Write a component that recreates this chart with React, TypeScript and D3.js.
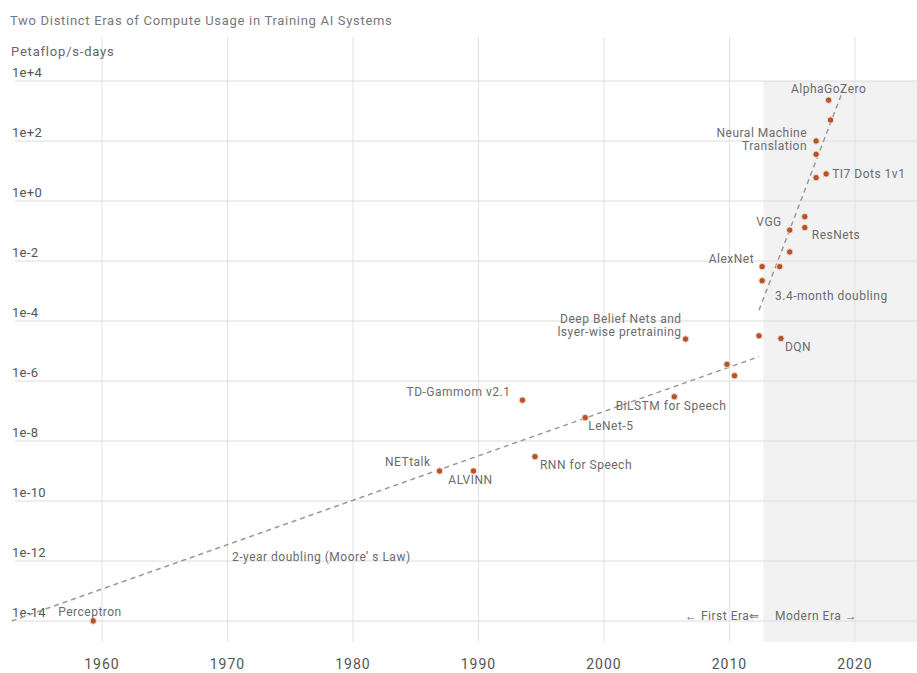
import { useEffect, useRef } from 'react';
import * as d3 from 'd3';

// training runs: name, year, petaflop/s-days
const systems = [
    'Perceptron', 'NETtalk', 'ALVINN', 'TD-Gammon', 'RNN for Speech', 'LeNet-5',
    'BiLSTM for Speech', 'Deep Belief Nets', 'run-2009', 'run-2010', 'run-2012a', 'DQN',
    'run-2012b', 'AlexNet', 'run-2014a', 'run-2014b', 'VGG', 'ResNets', 'run-2016',
    'run-2016b', 'TI7 Dots 1v1', 'Neural Machine Translation', 'run-2016c', 'run-2018', 'AlphaGoZero'
];
const years = [
    1959.3, 1986.9, 1989.6, 1993.5, 1994.5, 1998.5,
    2005.6, 2006.5, 2009.8, 2010.4, 2012.35, 2014.1,
    2012.6, 2012.6, 2014.0, 2014.8, 2014.8, 2016.0, 2016.0,
    2016.9, 2017.7, 2016.9, 2016.9, 2018.05, 2017.9
];
const petaflopDays = [
    1e-14, 1e-9, 1e-9, 2.3e-7, 3e-9, 6e-8,
    3e-7, 2.5e-5, 3.6e-6, 1.5e-6, 3.2e-5, 2.6e-5,
    2.2e-3, 6.5e-3, 6.5e-3, 2e-2, 0.107, 0.13, 0.3,
    6, 8, 100, 36, 500, 2300
];

const yearTicks = [1960, 1970, 1980, 1990, 2000, 2010, 2020];
const computeTicks = [1e4, 1e2, 1, 1e-2, 1e-4, 1e-6, 1e-8, 1e-10, 1e-12, 1e-14];
const computeTickLabels = ['1e+4', '1e+2', '1e+0', '1e-2', '1e-4', '1e-6', '1e-8', '1e-10', '1e-12', '1e-14'];

// trend lines [year, petaflop/s-days]
const mooreLine: [number, number][] = [[1952.8, 1e-14], [2012.35, 6.5e-6]];
const modernLine: [number, number][] = [[2012.35, 2.3e-4], [2019.05, 5e3]];
const modernEraStart = 2012.7;

// label text per system, with offsets from the dot
const labels: { name: string; lines: string[]; anchor: string; dx: number; dy: number }[] = [
    { name: 'AlphaGoZero', lines: ['AlphaGoZero'], anchor: 'middle', dx: 0, dy: -7 },
    { name: 'Neural Machine Translation', lines: ['Neural Machine', 'Translation'], anchor: 'end', dx: -9, dy: -4 },
    { name: 'TI7 Dots 1v1', lines: ['TI7 Dots 1v1'], anchor: 'start', dx: 6, dy: 4 },
    { name: 'VGG', lines: ['VGG'], anchor: 'end', dx: -8, dy: -4 },
    { name: 'ResNets', lines: ['ResNets'], anchor: 'start', dx: 7, dy: 11 },
    { name: 'AlexNet', lines: ['AlexNet'], anchor: 'end', dx: -8, dy: -4 },
    { name: 'DQN', lines: ['DQN'], anchor: 'start', dx: 4, dy: 12 },
    { name: 'Deep Belief Nets', lines: ['Deep Belief Nets and', 'lsyer-wise pretraining'], anchor: 'end', dx: -4, dy: -16 },
    { name: 'TD-Gammon', lines: ['TD-Gammom v2.1'], anchor: 'end', dx: -12, dy: -4 },
    { name: 'BiLSTM for Speech', lines: ['BiLSTM for Speech'], anchor: 'end', dx: 52, dy: 13 },
    { name: 'LeNet-5', lines: ['LeNet-5'], anchor: 'start', dx: 3, dy: 12 },
    { name: 'NETtalk', lines: ['NETtalk'], anchor: 'end', dx: -9, dy: -5 },
    { name: 'ALVINN', lines: ['ALVINN'], anchor: 'middle', dx: -3, dy: 13 },
    { name: 'RNN for Speech', lines: ['RNN for Speech'], anchor: 'start', dx: 5, dy: 12 },
    { name: 'Perceptron', lines: ['Perceptron'], anchor: 'start', dx: -35, dy: -5 },
];

export default function App() {
    const svgRef = useRef<SVGSVGElement>(null);

    useEffect(() => {
        if (!svgRef.current) return;
        const svg = d3.select(svgRef.current);
        svg.selectAll('*').remove();

        const width = 917;
        const left = 15, top = 81, bottom = 642, gridTop = 37;
        const font = 'Roboto, "Noto Sans", sans-serif';
        const textColor = '#6b6b6b';

        const x = d3.scaleLinear().domain([1960, 2020]).range([102, 855]);
        const y = d3.scaleLog().domain([1e-14, 1e4]).range([621, 81]);

        svg.append('rect').attr('width', width).attr('height', 673).attr('fill', '#fff');

        // modern era shading
        svg.append('rect')
            .attr('x', x(modernEraStart))
            .attr('y', top)
            .attr('width', width - x(modernEraStart))
            .attr('height', bottom - top)
            .attr('fill', '#f2f2f2');

        // grid
        svg.append('g')
            .selectAll('line')
            .data(yearTicks)
            .enter()
            .append('line')
            .attr('x1', d => x(d)).attr('x2', d => x(d))
            .attr('y1', gridTop).attr('y2', bottom)
            .attr('stroke', '#e2e2e2');

        svg.append('g')
            .selectAll('line')
            .data(computeTicks)
            .enter()
            .append('line')
            .attr('x1', left).attr('x2', width)
            .attr('y1', d => y(d)).attr('y2', d => y(d))
            .attr('stroke', '#dcdcdc');

        // axis labels
        svg.append('g')
            .selectAll('text')
            .data(yearTicks)
            .enter()
            .append('text')
            .attr('x', d => x(d))
            .attr('y', 669)
            .attr('text-anchor', 'middle')
            .style('font-family', font)
            .style('font-size', '14px')
            .style('letter-spacing', '1px')
            .style('fill', '#555')
            .text(d => d);

        svg.append('g')
            .selectAll('text')
            .data(computeTicks)
            .enter()
            .append('text')
            .attr('x', 12)
            .attr('y', d => y(d) - 4)
            .style('font-family', font)
            .style('font-size', '13px')
            .style('letter-spacing', '0.3px')
            .style('fill', '#555')
            .text((d, i) => computeTickLabels[i]);

        svg.append('text')
            .attr('x', 10).attr('y', 25)
            .style('font-family', font).style('font-size', '13px').style('letter-spacing', '0.7px')
            .style('fill', '#777')
            .text('Two Distinct Eras of Compute Usage in Training AI Systems');

        svg.append('text')
            .attr('x', 11).attr('y', 56)
            .style('font-family', font).style('font-size', '13px').style('letter-spacing', '0.8px')
            .style('fill', '#666')
            .text('Petaflop/s-days');

        // trend lines
        const line = d3.line<[number, number]>()
            .x(d => x(d[0]))
            .y(d => y(d[1]));

        [mooreLine, modernLine].forEach(pts => {
            svg.append('path')
                .datum(pts)
                .attr('fill', 'none')
                .attr('stroke', '#9a9a9a')
                .attr('stroke-width', 1.5)
                .attr('stroke-dasharray', '5,4')
                .attr('d', line);
        });

        const noteStyle = (t: d3.Selection<SVGTextElement, unknown, null, undefined>) =>
            t.style('font-family', font).style('font-size', '12px').style('letter-spacing', '0.5px')
                .style('fill', textColor);

        svg.append('text').attr('x', 232).attr('y', 561).call(noteStyle)
            .text('2-year doubling (Moore\u2019 s Law)');

        svg.append('text').attr('x', 775).attr('y', 300).call(noteStyle)
            .text('3.4-month doubling');

        svg.append('text').attr('x', 685).attr('y', 620).call(noteStyle)
            .text('\u2190 First Era\u21d0');

        svg.append('text').attr('x', 775).attr('y', 620).call(noteStyle)
            .text('Modern Era \u2192');

        // dots
        const points = systems.map((name, i) => ({ name, year: years[i], value: petaflopDays[i] }));

        svg.append('g')
            .selectAll('circle')
            .data(points)
            .enter()
            .append('circle')
            .attr('cx', d => x(d.year))
            .attr('cy', d => y(d.value))
            .attr('r', 3.2)
            .attr('fill', '#b5532c')
            .attr('stroke', '#f6d9c8')
            .attr('stroke-width', 1);

        // labels
        const labelG = svg.append('g')
            .style('font-family', font)
            .style('font-size', '12px')
            .style('letter-spacing', '0.5px')
            .style('fill', textColor);

        labels.forEach(l => {
            const p = points.find(pt => pt.name === l.name);
            if (!p) return;
            const t = labelG.append('text')
                .attr('text-anchor', l.anchor)
                .attr('x', x(p.year) + l.dx)
                .attr('y', y(p.value) + l.dy);
            l.lines.forEach((s, i) => {
                t.append('tspan')
                    .attr('x', x(p.year) + l.dx)
                    .attr('dy', i === 0 ? 0 : 13)
                    .text(s);
            });
        });
    }, []);

    return (
        <svg
            ref={svgRef}
            width={917}
            height={673}
            style={{ position: 'absolute', left: 0, top: 0 }}
        />
    );
}
